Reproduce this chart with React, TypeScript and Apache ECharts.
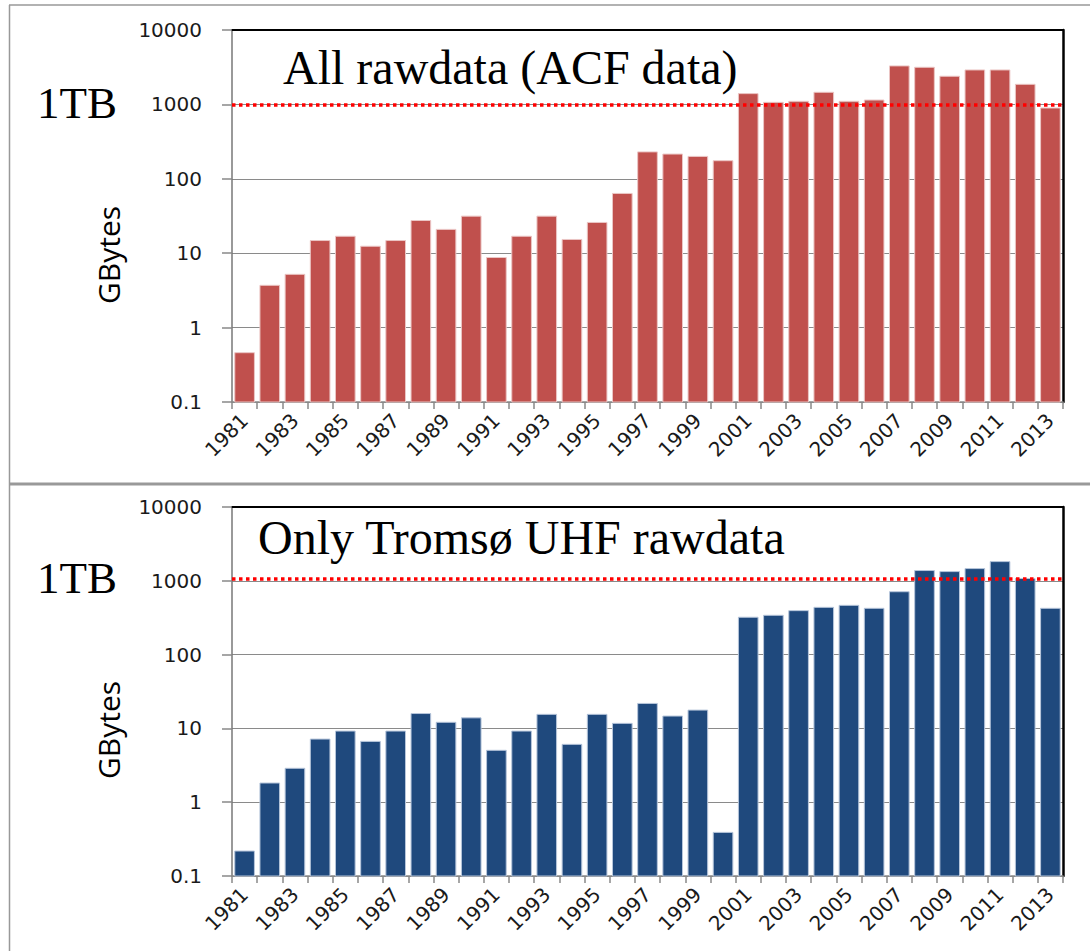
import React, { useEffect, useRef } from 'react';
import * as echarts from 'echarts';

const years = ['1981','1982','1983','1984','1985','1986','1987','1988','1989','1990','1991','1992','1993','1994','1995','1996','1997','1998','1999','2000','2001','2002','2003','2004','2005','2006','2007','2008','2009','2010','2011','2012','2013'];
const allRaw = [0.46,3.7,5.2,14.8,16.9,12.4,14.8,27.5,20.9,31.5,8.75,16.9,31.5,15.3,25.9,63.6,230,215,200,175,1396,1066,1100,1455,1100,1145,3290,3155,2390,2905,2905,1862,895];
const tromsoUhf = [0.218,1.82,2.88,7.17,9.2,6.67,9.2,15.9,12.1,13.9,5.05,9.2,15.5,6.08,15.5,11.7,21.8,14.7,17.7,0.39,321,341,394,437,465,424,711,1377,1333,1464,1820,1075,424];
const yTickLabels = ['0.1','1','10','100','1000','10000'];
const yMin = 0.1;
const yMax = 10000;
const tbLineTop = 1000;
const tbLineBottom = 1070;
const titles = ['All rawdata (ACF data)', 'Only Troms\u00f8 UHF rawdata'];

const tickFont = 'DejaVu Sans';

function makeAxes(gridIndex: number) {
  const xMain = {
    type: 'category', gridIndex, data: years, position: 'bottom',
    axisLine: { show: true, lineStyle: { color: '#888', width: 1.5 } },
    axisTick: { show: true, interval: 0, length: 7, lineStyle: { color: '#888', width: 1.5 } },
    axisLabel: { interval: 1, rotate: 45, margin: 15, fontFamily: tickFont, fontSize: 20, color: '#1a1a1a' },
    splitLine: { show: false },
  };
  const xTop = {
    type: 'category', gridIndex, data: years, position: 'top',
    axisLine: { show: true, lineStyle: { color: '#000', width: 2 } },
    axisTick: { show: false }, axisLabel: { show: false }, splitLine: { show: false },
  };
  const yMain = {
    type: 'log', gridIndex, logBase: 10, min: yMin, max: yMax, splitNumber: 5, position: 'left',
    axisLine: { show: true, lineStyle: { color: '#777', width: 1.5 } },
    axisTick: { show: true, length: 10, lineStyle: { color: '#888', width: 1.5 } },
    axisLabel: {
      margin: 30, fontFamily: tickFont, fontSize: 20, color: '#1a1a1a',
      formatter: (v: number) => yTickLabels[Math.round(Math.log10(v)) + 1] ?? '',
    },
    splitLine: { show: true, lineStyle: { color: '#8a8a8a', width: 1.2 } },
  };
  const yRight = {
    type: 'value', gridIndex, min: 0, max: 1, position: 'right',
    axisLine: { show: true, lineStyle: { color: '#000', width: 2.5 } },
    axisTick: { show: false }, axisLabel: { show: false }, splitLine: { show: false },
  };
  return { xs: [xMain, xTop], ys: [yMain, yRight] };
}

function barSeries(values: number[], axisIdx: number, fill: string, stroke: string, tbValue: number) {
  return {
    type: 'custom',
    xAxisIndex: axisIdx * 2,
    yAxisIndex: axisIdx * 2,
    data: values.map((v, i) => [i, v]),
    renderItem: (params: any, api: any) => {
      const idx = api.value(0);
      const val = api.value(1);
      const top = api.coord([idx, val]);
      const base = api.coord([idx, yMin]);
      const band = api.coord([1, 1])[0] - api.coord([0, 1])[0];
      const w = band * 0.78;
      return {
        type: 'rect',
        shape: { x: top[0] - w / 2, y: top[1], width: w, height: base[1] - top[1] },
        style: { fill, stroke, lineWidth: 1 },
      };
    },
    markLine: {
      silent: true,
      symbol: 'none',
      label: { show: false },
      lineStyle: { color: '#ff0000', type: [3.5, 3.5], width: 3.5 },
      data: [{ yAxis: tbValue }],
    },
    z: 3,
  };
}

export default function App() {
  const ref = useRef<HTMLDivElement>(null);
  useEffect(() => {
    if (!ref.current) return;
    const chart = echarts.init(ref.current, null, { renderer: 'svg' });
    const a0 = makeAxes(0);
    const a1 = makeAxes(1);
    const serif = 'Liberation Serif, Times New Roman, serif';
    chart.setOption({
      animation: false,
      backgroundColor: '#fff',
      grid: [
        { left: 232, top: 30, width: 831, height: 372 },
        { left: 232, top: 507, width: 831, height: 369 },
      ],
      xAxis: [...a0.xs, ...a1.xs],
      yAxis: [...a0.ys, ...a1.ys],
      series: [
        barSeries(allRaw, 0, '#C0504D', '#EBC6C5', tbLineTop),
        barSeries(tromsoUhf, 1, '#1F497D', '#B7C6DB', tbLineBottom),
      ],
      graphic: [
        { type: 'line', shape: { x1: 9.5, y1: 5, x2: 9.5, y2: 951 }, style: { stroke: '#999', lineWidth: 1.5 } },
        { type: 'line', shape: { x1: 9, y1: 5, x2: 1090, y2: 5 }, style: { stroke: '#999', lineWidth: 1.5 } },
        { type: 'line', shape: { x1: 9, y1: 484, x2: 1090, y2: 484 }, style: { stroke: '#999', lineWidth: 3 } },
        { type: 'text', x: 283, y: 67, style: { text: titles[0], font: `48px ${serif}`, fill: '#000', align: 'left', verticalAlign: 'middle' } },
        { type: 'text', x: 258, y: 537, style: { text: titles[1], font: `48px ${serif}`, fill: '#000', align: 'left', verticalAlign: 'middle' } },
        { type: 'text', x: 37, y: 103, style: { text: '1TB', font: `45px ${serif}`, fill: '#000', align: 'left', verticalAlign: 'middle' } },
        { type: 'text', x: 37, y: 578, style: { text: '1TB', font: `45px ${serif}`, fill: '#000', align: 'left', verticalAlign: 'middle' } },
        { type: 'text', x: 108, y: 255, rotation: Math.PI / 2, style: { text: 'GBytes', font: '30px "Open Sans", sans-serif', fill: '#000', align: 'center', verticalAlign: 'middle' } },
        { type: 'text', x: 108, y: 730, rotation: Math.PI / 2, style: { text: 'GBytes', font: '30px "Open Sans", sans-serif', fill: '#000', align: 'center', verticalAlign: 'middle' } },
      ],
    });
    return () => chart.dispose();
  }, []);
  return <div ref={ref} style={{ position: 'absolute', left: 0, top: 0, width: 1090, height: 951 }} />;
}
